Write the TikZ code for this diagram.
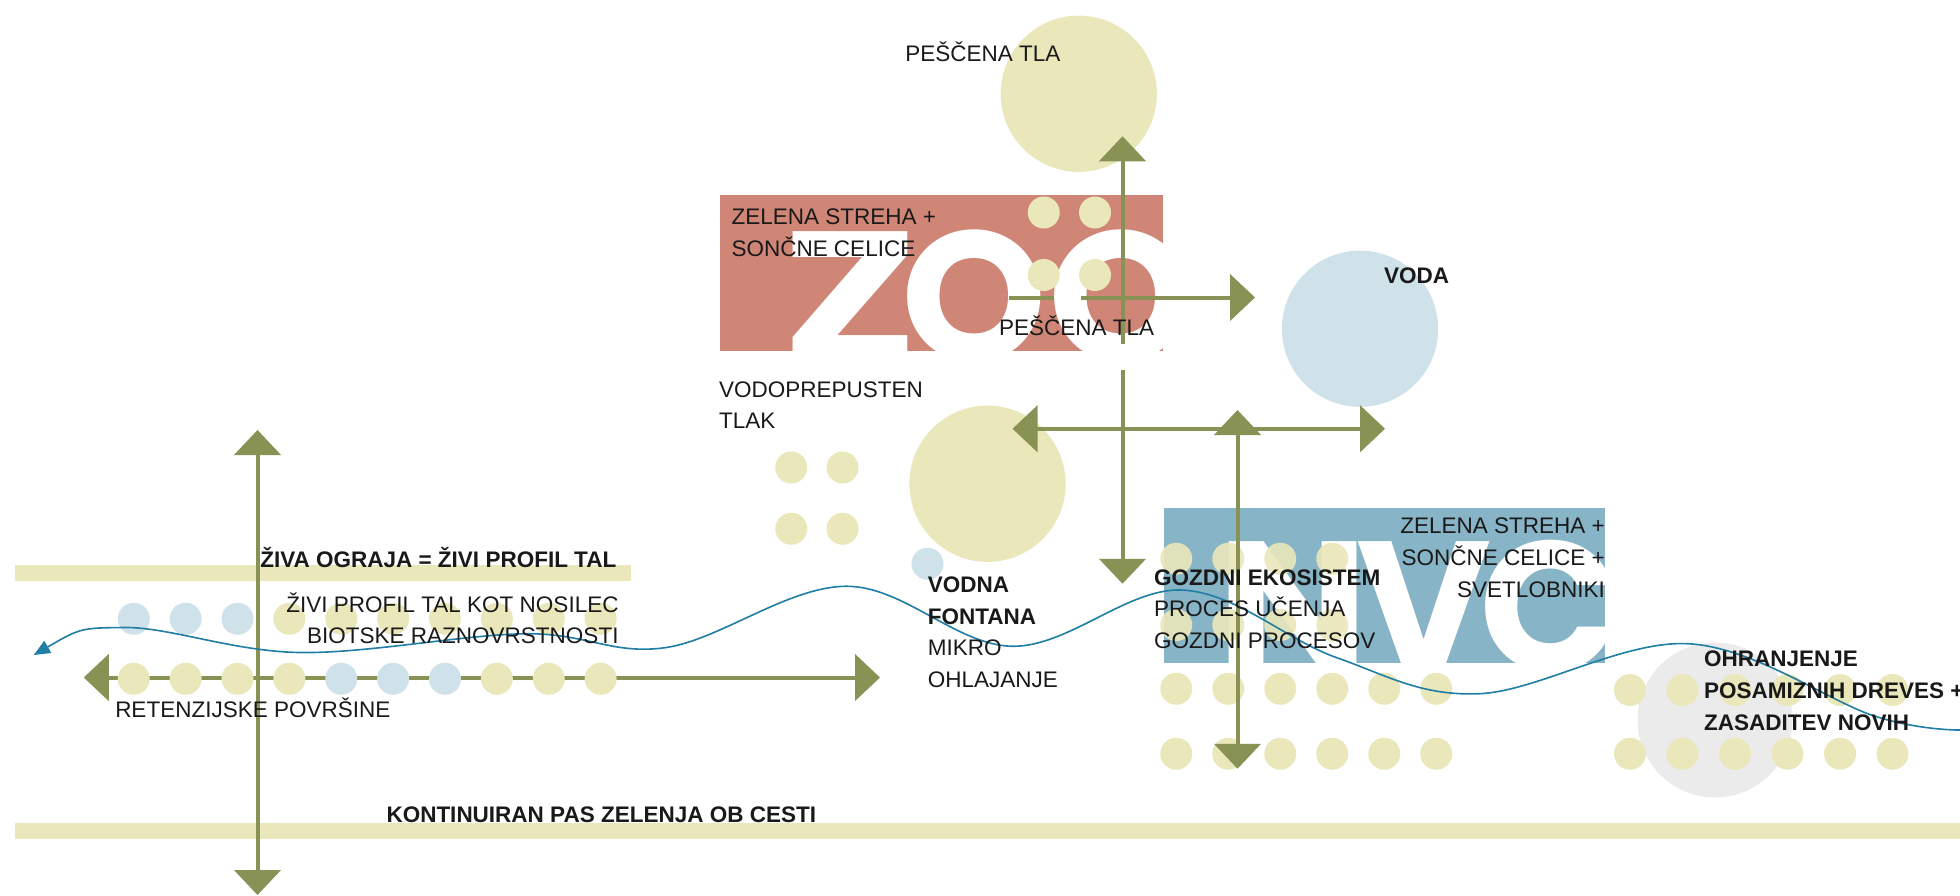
\documentclass[tikz,border=0pt]{standalone}
\usepackage{fontspec}
\setmainfont{Liberation Sans}
\newfontfamily\bigletters{Poppins}
\usetikzlibrary{arrows.meta}
\definecolor{olivearrow}{RGB}{137,146,85}
\definecolor{sand}{RGB}{234,231,186}
\definecolor{waterblue}{RGB}{207,225,233}
\definecolor{zoored}{RGB}{207,134,118}
\definecolor{nvcblue}{RGB}{135,180,198}
\definecolor{wavecolor}{RGB}{33,127,165}
\definecolor{treegray}{RGB}{235,235,235}
\definecolor{ink}{RGB}{25,25,25}

\tikzset{
  arr/.style={draw=olivearrow, line width=3.2pt, -{Triangle[length=20pt,width=37pt]}},
  dblarr/.style={arr, {Triangle[length=20pt,width=37pt]}-{Triangle[length=20pt,width=37pt]}},
  dot/.style={circle, inner sep=0pt, minimum size=25.6pt, fill=sand},
  wetdot/.style={dot, fill=waterblue},
  bigdot/.style={circle, inner sep=0pt, minimum size=125pt},
  lbl/.style={inner sep=0pt, text=ink, font=\fontsize{18}{25.3}\selectfont},
  blbl/.style={lbl, font=\fontsize{18}{25.3}\selectfont\bfseries},
  bigletter/.style={inner sep=0pt, anchor=base, text=white,
    font=\bigletters\bfseries\fontsize{148}{148}\selectfont},
}

\begin{document}
\begin{tikzpicture}[x=1pt,y=-1pt]
  \useasboundingbox (0,0) rectangle (1568,716);

  % green strips
  \fill[sand] (12,452) rectangle (505,465);
  \fill[sand] (12,658) rectangle (1568,671);

  % large circles
  \node[bigdot, fill=sand] (sandtop) at (863,75) {};
  \node[bigdot, fill=waterblue] (voda) at (1088,263) {};
  \node[bigdot, fill=sand] (fountain) at (790,387) {};
  \node[bigdot, fill=treegray, minimum size=124pt] (tree) at (1372,576) {};

  % ZOO block
  \node[fill=zoored, minimum width=354pt, minimum height=125pt, inner sep=0pt] (zoo) at (753,218.5) {};
  \begin{scope}
    \clip (zoo.south west) rectangle (zoo.north east);
    \node[bigletter, xscale=1.25] (zooZ) at (680,289) {Z};
    \node[bigletter] (zooO) at (779,289) {O};
    \node[bigletter] (zooOO) at (897,289) {O};
  \end{scope}

  % NVC block
  \node[fill=nvcblue, minimum width=353pt, minimum height=124pt, inner sep=0pt] (nvc) at (1107.5,468) {};
  \begin{scope}
    \clip (nvc.south west) rectangle (nvc.north east);
    \node[bigletter, xscale=1.1] (nvcN) at (1034,537) {N};
    \node[bigletter] (nvcV) at (1139,537) {V};
    \node[bigletter] (nvcC) at (1240,537) {C};
  \end{scope}

  % hedge axis under the dots
  \coordinate (hedgeL) at (67,542);
  \coordinate (hedgeR) at (704,542);
  \draw[dblarr] (hedgeL) -- (hedgeR);

  % dots
  \foreach \x/\y [count=\i] in {835/170,876/170,835/220,876/220}
    \node[dot] (roofdot\i) at (\x,\y) {};
  \foreach \x/\y [count=\i] in {633/374,674/374,633/423,674/423}
    \node[dot] (pavedot\i) at (\x,\y) {};
  \node[wetdot] (drop) at (742,451) {};
  \foreach \y [count=\r] in {447,500}
    \foreach \k in {0,...,3}
      \node[dot, opacity=.9] (forestdot\r\k) at ({941+41.6*\k},\y) {};
  \foreach \y [count=\r from 3] in {551,603}
    \foreach \k in {0,...,5}
      \node[dot] (forestdot\r\k) at ({941+41.6*\k},\y) {};
  \foreach \y [count=\r] in {552,603}
    \foreach \k in {0,...,5}
      \node[dot] (treedot\r\k) at ({1304+42*\k},\y) {};
  \foreach \c [count=\k from 0] in {waterblue,waterblue,waterblue,sand,sand,sand,sand,sand,sand,sand}
    \node[dot, fill=\c] (biodot\k) at ({107+41.5*\k},495) {};
  \foreach \c [count=\k from 0] in {sand,sand,sand,sand,waterblue,waterblue,waterblue,sand,sand,sand}
    \node[dot, fill=\c] (retdot\k) at ({107+41.5*\k},543) {};

  % arrows
  \coordinate (profTop) at (206,344);
  \coordinate (profBot) at (206,716);
  \draw[dblarr] (profTop) -- (profBot);

  \coordinate (sandUp) at (898,109);
  \coordinate (sandUpFoot) at (898,275);
  \draw[arr] (sandUpFoot) -- (sandUp);
  \coordinate (sandDownFoot) at (898,296);
  \coordinate (sandDown) at (898,467);
  \draw[arr] (sandDownFoot) -- (sandDown);

  \coordinate (zooL) at (807,238);
  \coordinate (zooGap) at (843,238);
  \coordinate (zooGapEnd) at (865,238);
  \coordinate (zooR) at (1004,238);
  \draw[arr, -] (zooL) -- (zooGap);
  \draw[arr] (zooGapEnd) -- (zooR);

  \coordinate (crossL) at (810,343);
  \coordinate (crossR) at (1108,343);
  \draw[dblarr] (crossL) -- (crossR);
  \coordinate (forestUp) at (990,328);
  \coordinate (forestDown) at (990,615);
  \draw[dblarr] (forestUp) -- (forestDown);

  % water line
  \draw[wavecolor, line width=1.3pt, {Triangle[length=13pt,width=11pt]}-]
    plot[smooth, tension=0.6] coordinates {(27,524) (100,502) (240,522) (420,507) (533,518)
      (677,469) (810,517) (945,472) (1069,526) (1183,555) (1351,515) (1500,573) (1568,584)};

  % labels (base = last line)
  \node[lbl, anchor=base west] (sandTopLbl) at (724,49) {PEŠČENA TLA};
  \node[lbl, anchor=base west, align=left] (roofLbl) at (585,205) {ZELENA STREHA +\\SONČNE CELICE};
  \node[lbl, anchor=base west] (sandLbl) at (799,268) {PEŠČENA TLA};
  \node[blbl, anchor=base west] (vodaLbl) at (1107,227) {VODA};
  \node[lbl, anchor=base west, align=left] (pavementLbl) at (575,343) {VODOPREPUSTEN\\TLAK};
  \node[lbl, anchor=base east, align=right] (nvcLbl) at (1284,477.6) {ZELENA STREHA +\\SONČNE CELICE +\\SVETLOBNIKI};
  \node[lbl, anchor=base west, align=left] (forestLbl) at (923,518.6) {\textbf{GOZDNI EKOSISTEM}\\PROCES UČENJA\\GOZDNI PROCESOV};
  \node[lbl, anchor=base west, align=left] (fountainLbl) at (742,549.9) {\textbf{VODNA}\\\textbf{FONTANA}\\MIKRO\\OHLAJANJE};
  \node[blbl, anchor=base west] (hedgeLbl) at (208,454) {ŽIVA OGRAJA = ŽIVI PROFIL TAL};
  \node[lbl, anchor=base east, align=right] (bioLbl) at (495,515) {ŽIVI PROFIL TAL KOT NOSILEC\\BIOTSKE RAZNOVRSTNOSTI};
  \node[lbl, anchor=base west] (retLbl) at (92,574) {RETENZIJSKE POVRŠINE};
  \node[blbl, anchor=base west] (stripLbl) at (309,658) {KONTINUIRAN PAS ZELENJA OB CESTI};
  \node[blbl, anchor=base west, align=left] (treeLbl) at (1363,584.1) {OHRANJENJE\\POSAMIZNIH DREVES +\\ZASADITEV NOVIH};
\end{tikzpicture}
\end{document}
